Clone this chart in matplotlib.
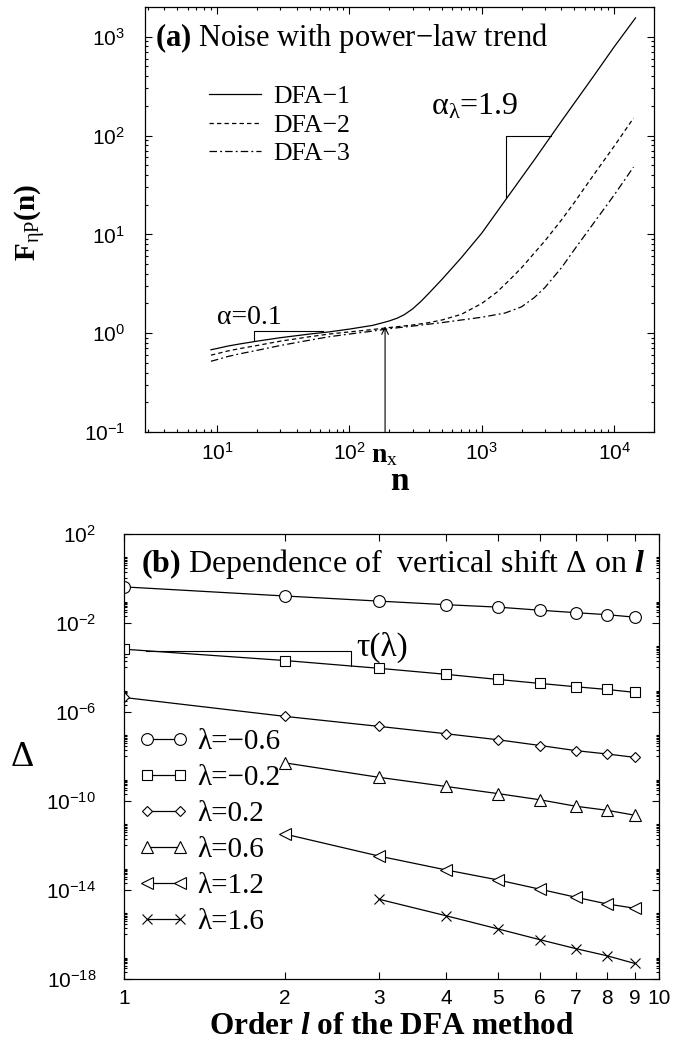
import numpy as np
import matplotlib
matplotlib.use('Agg')
import matplotlib.pyplot as plt
from matplotlib.ticker import LogLocator, FixedLocator, NullFormatter, FixedFormatter, NullLocator

plt.rcParams['font.family'] = 'Liberation Sans'
plt.rcParams['mathtext.fontset'] = 'custom'
plt.rcParams['mathtext.rm'] = 'Liberation Serif'
plt.rcParams['mathtext.it'] = 'Liberation Serif:italic'
plt.rcParams['mathtext.bf'] = 'Liberation Serif:bold'
plt.rcParams['mathtext.sf'] = 'Liberation Serif:bold:italic'
plt.rcParams['axes.linewidth'] = 0.9
SERIF = 'Liberation Serif'

# ---- panel (a): F(n) for noise with power-law trend ----
n_dfa1 = [9, 10, 12, 15, 20, 30, 50, 70, 100, 150, 180, 200, 230, 260, 300, 350, 400, 500,
          700, 1000, 1500, 2500, 4000, 7000, 10000, 14500]
f_dfa1 = [0.68, 0.70, 0.74, 0.78, 0.83, 0.90, 0.98, 1.03, 1.10, 1.20, 1.28, 1.33, 1.42,
          1.54, 1.76, 2.12, 2.55, 3.5, 5.8, 10.3, 22, 57, 140, 400, 790, 1550]
n_dfa2 = [9, 10, 12, 15, 20, 30, 50, 70, 100, 150, 200, 300, 400, 500, 700, 1000, 1300, 1600,
          2000, 2500, 3000, 4000, 5000, 7000, 10000, 14000]
f_dfa2 = [0.60, 0.62, 0.66, 0.70, 0.75, 0.83, 0.92, 0.98, 1.03, 1.09, 1.14, 1.21, 1.28, 1.36,
          1.55, 2.0, 2.6, 3.4, 4.6, 6.5, 8.6, 14, 21, 40, 78, 150]
n_dfa3 = [9, 10, 12, 15, 20, 30, 50, 70, 100, 150, 200, 300, 500, 700, 1000, 1500, 2000, 2500,
          3000, 4000, 5000, 7000, 10000, 14000]
f_dfa3 = [0.52, 0.54, 0.58, 0.62, 0.67, 0.75, 0.85, 0.92, 0.98, 1.05, 1.11, 1.18, 1.28, 1.36,
          1.45, 1.6, 1.85, 2.3, 2.9, 4.6, 7.0, 13, 25, 48]
labels_a = ['DFA\u22121', 'DFA\u22122', 'DFA\u22123']
n_cross = 186          # crossover n_x
f_cross = 1.17

# ---- panel (b): vertical shift vs DFA order ----
orders = [1, 2, 3, 4, 5, 6, 7, 8, 9]
logd_m06 = [-0.38, -0.79, -1.02, -1.18, -1.29, -1.43, -1.54, -1.63, -1.74]
logd_m02 = [-3.18, -3.69, -4.04, -4.31, -4.54, -4.72, -4.87, -4.99, -5.12]
logd_p02 = [-5.35, -6.20, -6.65, -6.98, -7.25, -7.51, -7.74, -7.89, -8.04]
logd_p06 = [-8.29, -8.94, -9.35, -9.67, -9.95, -10.24, -10.42, -10.64]      # l = 2..9
logd_p12 = [-11.49, -12.48, -13.10, -13.55, -13.97, -14.33, -14.63, -14.82]  # l = 2..9
logd_p16 = [-14.42, -15.16, -15.75, -16.24, -16.64, -16.96, -17.30]          # l = 3..9
lam_labels = ['\u03bb=\u22120.6', '\u03bb=\u22120.2', '\u03bb=0.2', '\u03bb=0.6', '\u03bb=1.2', '\u03bb=1.6']

fig = plt.figure(figsize=(6.73, 10.42), dpi=100)

# ================= panel (a) =================
ax1 = fig.add_axes([0.2155, 0.5854, 0.7563, 0.4079])
lw = 0.9
ax1.plot(n_dfa1, f_dfa1, '-', color='black', lw=lw, label=labels_a[0])
ax1.plot(n_dfa2, f_dfa2, color='black', lw=lw, dashes=(3.5, 2.5), label=labels_a[1])
ax1.plot(n_dfa3, f_dfa3, color='black', lw=lw, dashes=(6, 2.5, 1.5, 2.5), label=labels_a[2])
ax1.set_xscale('log')
ax1.set_yscale('log')
ax1.set_xlim(2.86, 2.0e4)
ax1.set_ylim(0.1, 2000)
ax1.xaxis.set_major_locator(LogLocator(base=10, numticks=10))
ax1.xaxis.set_minor_locator(LogLocator(base=10, subs=np.arange(2, 10), numticks=50))
ax1.yaxis.set_major_locator(LogLocator(base=10, numticks=10))
ax1.yaxis.set_minor_locator(LogLocator(base=10, subs=np.arange(2, 10), numticks=50))
ax1.xaxis.set_minor_formatter(NullFormatter())
ax1.yaxis.set_minor_formatter(NullFormatter())
ax1.tick_params(which='both', direction='in', top=True, right=True, width=0.8)
ax1.tick_params(which='major', length=5, labelsize=15)
ax1.tick_params(which='minor', length=2.5)
ax1.tick_params(axis='x', pad=7)
ax1.tick_params(axis='y', pad=14.5)

# slope triangles
ax1.plot([1530, 1530, 3360], [24, 100, 100], color='black', lw=0.8)
ax1.plot([19, 19, 63], [0.83, 1.05, 1.05], color='black', lw=0.8)
ax1.text(415, 195, r'$\mathrm{\alpha}_{\mathrm{\lambda}}$=1.9', family=SERIF, fontsize=23,
         ha='left', va='center')
ax1.text(10, 1.45, '\u03b1=0.1', family=SERIF, fontsize=20, ha='left', va='center')
ax1.annotate('', xy=(n_cross, f_cross), xytext=(n_cross, 0.1),
             arrowprops=dict(arrowstyle='->', color='black', lw=0.8, shrinkA=0, shrinkB=0,
                             mutation_scale=12))
ax1.text(n_cross, -0.054, r'$\mathbf{n}_{\mathrm{x}}$', transform=ax1.get_xaxis_transform(),
         fontsize=20, ha='center', va='center')
ax1.text(0.02, 0.928, r'$\mathbf{(a)}$ Noise with power' + '\u2212' + 'law trend',
         transform=ax1.transAxes, family=SERIF, fontsize=22, ha='left', va='center')
ax1.set_xlabel('n', family=SERIF, fontweight='bold', fontsize=24, labelpad=2)
ax1.legend(loc='upper left', bbox_to_anchor=(0.126, 0.8165), frameon=False,
           prop={'family': SERIF, 'size': 18.5}, handlelength=2.02, handletextpad=0.47,
           labelspacing=0.22, borderpad=0, borderaxespad=0)
fig.text(30 / 673, 1 - 222 / 1042, r'$\mathbf{F}_{\mathrm{\eta P}}$(n)', rotation=90,
         family=SERIF, fontweight='bold', fontsize=21, ha='center', va='center')

# ================= panel (b) =================
ax2 = fig.add_axes([0.1842, 0.0605, 0.795, 0.4271])
series = [(orders, logd_m06, 'o', 8.5),
          (orders, logd_m02, 's', 6.5),
          (orders, logd_p02, 'D', 5.5),
          (orders[1:], logd_p06, '^', 8),
          (orders[1:], logd_p12, '<', 8),
          (orders[2:], logd_p16, 'x', 7)]
for (xs, ys, mk, ms), lab in zip(series, lam_labels):
    ax2.plot(xs, 10.0 ** np.array(ys), '-', color='black', lw=0.9, marker=mk, ms=ms,
             mfc='white', mec='black', mew=0.8, label=lab)
ax2.set_xscale('log')
ax2.set_yscale('log')
ax2.set_xlim(1, 10)
ax2.set_ylim(1e-18, 1e2)
ax2.xaxis.set_major_locator(FixedLocator(list(range(1, 11))))
ax2.xaxis.set_major_formatter(FixedFormatter([str(i) for i in range(1, 11)]))
ax2.xaxis.set_minor_locator(NullLocator())
ax2.yaxis.set_major_locator(FixedLocator([10.0 ** e for e in range(2, -19, -4)]))
ax2.yaxis.set_minor_locator(FixedLocator([k * 10.0 ** e for e in range(-18, 2, 2)
                                          for k in range(1, 10)]))
ax2.yaxis.set_minor_formatter(NullFormatter())
ax2.tick_params(which='both', direction='in', top=True, right=True, width=0.8)
ax2.tick_params(which='major', length=5, labelsize=15)
ax2.tick_params(which='minor', length=2.5)
ax2.tick_params(axis='x', pad=7)
ax2.tick_params(axis='y', pad=20)

ax2.plot([1.1, 2.66, 2.66], [10 ** -3.25, 10 ** -3.25, 10 ** -3.92], color='black', lw=0.8)
ax2.text(2.72, 10 ** -3.09, '\u03c4(\u03bb)', family=SERIF, fontsize=24, ha='left', va='center')
ax2.text(0.032, 0.933, r'$\mathbf{(b)}$ Dependence of  vertical shift ' + '\u0394' + r' on $\mathsf{l}$',
         transform=ax2.transAxes, family=SERIF, fontsize=23, ha='left', va='center')
ax2.legend(loc='upper left', bbox_to_anchor=(0.0275, 0.562), frameon=False,
           prop={'family': SERIF, 'size': 21}, handlelength=1.7, handletextpad=0.3,
           labelspacing=0.33, borderpad=0, borderaxespad=0, numpoints=2)
ax2.set_xlabel(r'Order $\mathsf{l}$ of the DFA method', family=SERIF, fontweight='bold',
               fontsize=22.5, labelpad=3)
fig.text(22 / 673, 1 - 758 / 1042, '\u0394', family=SERIF, fontsize=26, ha='center', va='center')

fig.savefig('out.png', dpi=100)
